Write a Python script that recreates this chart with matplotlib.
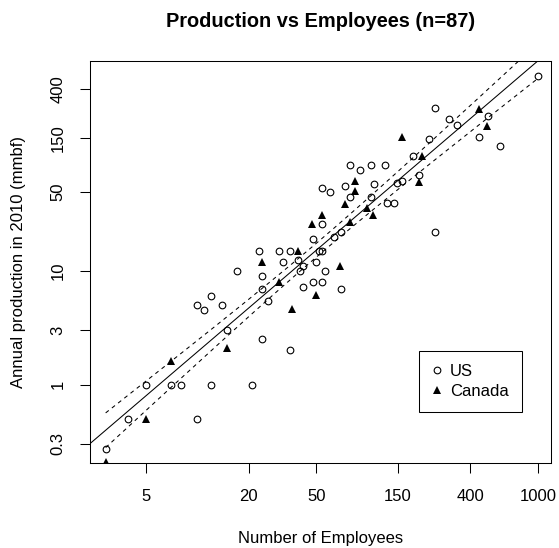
import numpy as np
import matplotlib.pyplot as plt
from matplotlib.lines import Line2D

# employees and 2010 lumber production (mmbf) by mill
us_emp = [2.9, 3.9, 5, 7, 8, 12, 10, 10, 11, 12, 14, 15, 17, 21, 23, 24, 24, 24,
          26, 30, 32, 35, 35, 39, 40, 42, 42, 48, 54, 50, 52, 54, 56, 70, 48, 63,
          70, 54, 54, 60, 74, 79, 79, 90, 104, 126, 109, 104, 129, 143, 149, 160,
          185, 200, 230, 248, 300, 335, 248, 450, 510, 600, 995]
us_prod = [0.27, 0.5, 1, 1, 1, 1, 0.5, 5, 4.5, 6, 5, 3, 10, 1, 15, 9, 7, 2.5,
           5.5, 15, 12, 15, 2, 12.5, 10, 7.3, 11, 8, 8, 12, 15, 15, 10, 7, 19, 20,
           22, 26, 54, 50, 56, 45, 86, 78, 86, 86, 58, 45, 40, 40, 60, 62,
           104, 70, 145, 271, 218, 193, 22, 151, 234, 127, 520]
ca_emp = [2.9, 5, 7, 15, 24, 30, 36, 39, 47, 54, 50, 69, 74, 79, 84, 84, 99, 107,
          159, 208, 199, 450, 500]
ca_prod = [0.21, 0.5, 1.6, 2.1, 12, 8, 4.6, 15, 26, 31, 6.1, 11, 39, 27, 62, 51,
           36, 31, 151, 103, 61, 267, 190]

x_ticks = [5, 20, 50, 150, 400, 1000]
x_tick_labels = ['5', '20', '50', '150', '400', '1000']
y_ticks = [0.3, 1, 3, 10, 50, 150, 400]
y_tick_labels = ['0.3', '1', '3', '10', '50', '150', '400']

plt.rcParams['font.family'] = ['Liberation Sans', 'DejaVu Sans']

# regression of log production on log employees, all mills together
lx = np.log10(np.r_[us_emp, ca_emp])
ly = np.log10(np.r_[us_prod, ca_prod])
n = len(lx)
slope, icpt = np.polyfit(lx, ly, 1)
resid = ly - (icpt + slope * lx)
s = np.sqrt(np.sum(resid ** 2) / (n - 2))
sxx = np.sum((lx - lx.mean()) ** 2)
t975 = 1.989  # t quantile for 95% band, df ~ 85

grid = np.linspace(lx.min(), lx.max(), 200)
fit = icpt + slope * grid
se = s * np.sqrt(1 / n + (grid - lx.mean()) ** 2 / sxx)

fig = plt.figure(figsize=(5.59, 5.48), dpi=100)
ax = fig.add_axes([90 / 559, 85 / 548, 461 / 559, 402 / 548])
ax.set_xscale('log')
ax.set_yscale('log')
ax.set_xlim(2.347, 1190)
ax.set_ylim(0.204, 710)

ax.plot(us_emp, us_prod, 'o', ls='none', mfc='none', mec='black', ms=4.8, mew=0.8)
ax.plot(ca_emp, ca_prod, '^', ls='none', mfc='black', mec='black', ms=5.3, mew=0)

# fitted line across the whole panel, confidence band over data range
xs = np.log10(np.array(ax.get_xlim()))
ax.plot(10 ** xs, 10 ** (icpt + slope * xs), color='black', lw=0.75)
ax.plot(10 ** grid, 10 ** (fit + t975 * se), color='black', lw=0.75, ls=(0, (3.8, 3.8)))
ax.plot(10 ** grid, 10 ** (fit - t975 * se), color='black', lw=0.75, ls=(0, (3.8, 3.8)))

ax.set_xticks(x_ticks, x_tick_labels)
ax.set_yticks(y_ticks, y_tick_labels)
ax.xaxis.set_minor_locator(plt.NullLocator())
ax.yaxis.set_minor_locator(plt.NullLocator())
ax.tick_params(length=7.2, width=0.75, labelsize=12, color='black')
ax.tick_params(axis='x', pad=11.5)
ax.tick_params(axis='y', pad=10.4, labelrotation=90)
plt.setp(ax.get_yticklabels(), va='center')
for sp in ax.spines.values():
    sp.set_linewidth(0.75)
    sp.set_color('black')

handles = [
    Line2D([], [], marker='o', ls='none', mfc='none', mec='black', ms=4.8, mew=0.8),
    Line2D([], [], marker='^', ls='none', mfc='black', mec='black', ms=5.3, mew=0),
]
leg = ax.legend(handles, ['US', 'Canada'], loc='upper left',
                bbox_to_anchor=(0.7137, 0.2794), borderaxespad=0,
                fontsize=12, fancybox=False, framealpha=1, edgecolor='black',
                borderpad=0.8, labelspacing=0.28, handlelength=0.5,
                handletextpad=0.55)
leg.get_frame().set_linewidth(0.75)

fig.text(320.5 / 559, 1 - 26.7 / 548, 'Production vs Employees (n=87)',
         ha='center', va='baseline', fontsize=14.4, fontweight='bold')
fig.text(320.5 / 559, 1 - 543.3 / 548, 'Number of Employees',
         ha='center', va='baseline', fontsize=12)
fig.text(19 / 559, 1 - 262 / 548, 'Annual production in 2010 (mmbf)',
         ha='center', va='center', rotation=90, fontsize=12)

fig.savefig('out.png', dpi=100)
